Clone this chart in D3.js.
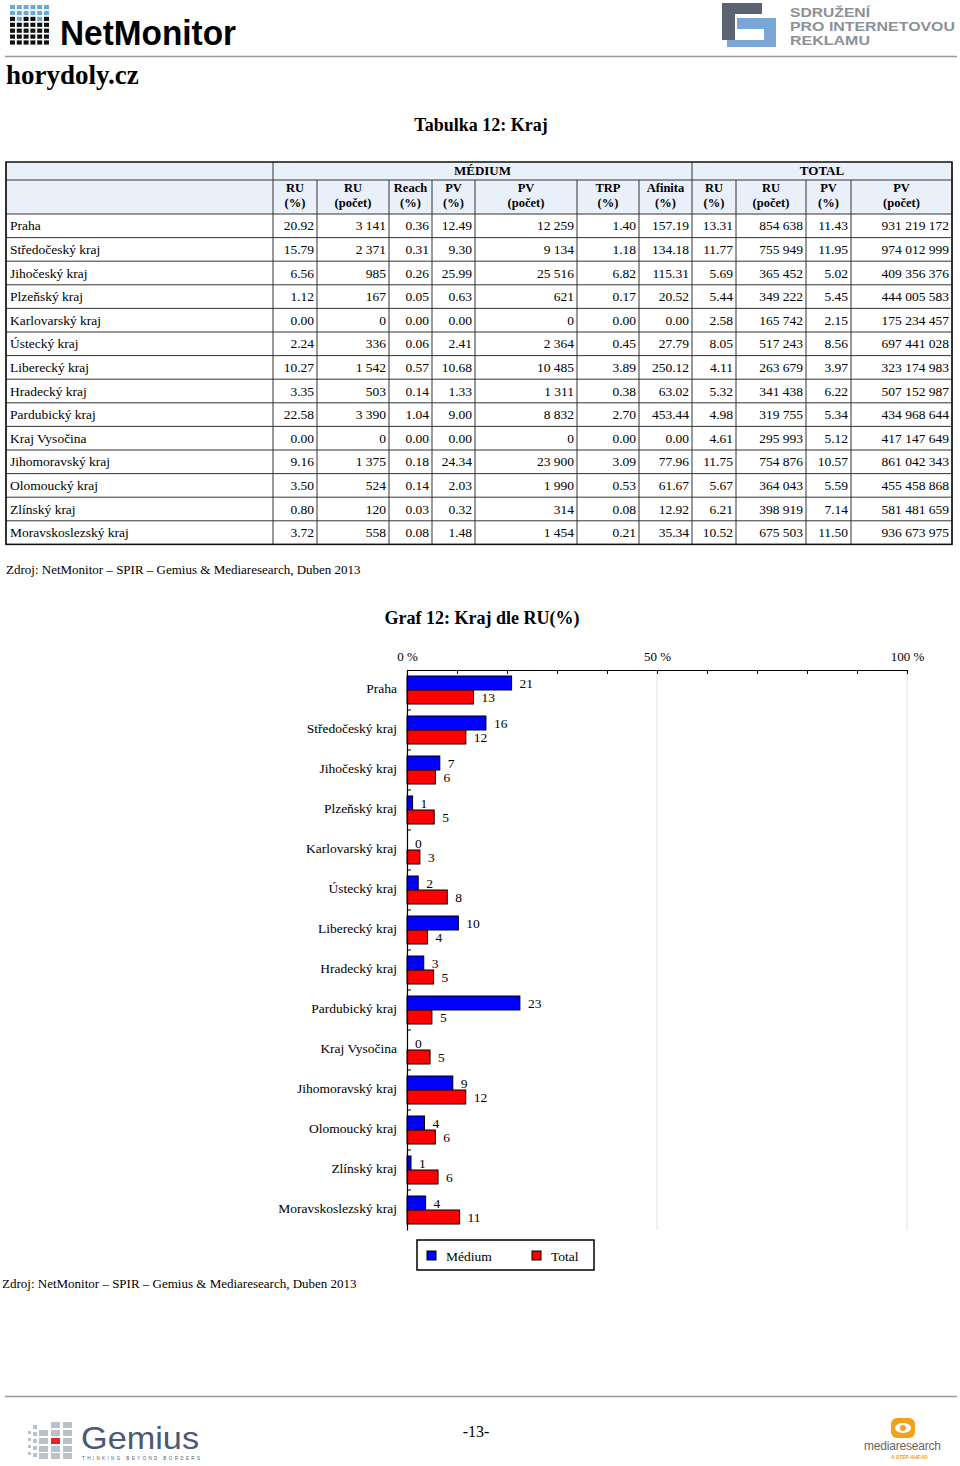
<!DOCTYPE html>
<html><head><meta charset="utf-8">
<script src="https://cdn.jsdelivr.net/npm/d3@7"></script>
<style>
body{margin:0;background:#fff}
svg{display:block}
.serif{font-family:"Liberation Serif","DejaVu Serif",serif}
.sans{font-family:"Liberation Sans","DejaVu Sans",Arial,sans-serif}
</style>
</head><body>
<svg id="c" width="960" height="1466"></svg>
<script>
// ---------- DATA ----------
const regions = ["Praha","Středočeský kraj","Jihočeský kraj","Plzeňský kraj","Karlovarský kraj","Ústecký kraj","Liberecký kraj","Hradecký kraj","Pardubický kraj","Kraj Vysočina","Jihomoravský kraj","Olomoucký kraj","Zlínský kraj","Moravskoslezský kraj"];
const medRuPct   = [20.92,15.79,6.56,1.12,0.00,2.24,10.27,3.35,22.58,0.00,9.16,3.50,0.80,3.72];
const medRuCount = [3141,2371,985,167,0,336,1542,503,3390,0,1375,524,120,558];
const medReach   = [0.36,0.31,0.26,0.05,0.00,0.06,0.57,0.14,1.04,0.00,0.18,0.14,0.03,0.08];
const medPvPct   = [12.49,9.30,25.99,0.63,0.00,2.41,10.68,1.33,9.00,0.00,24.34,2.03,0.32,1.48];
const medPvCount = [12259,9134,25516,621,0,2364,10485,1311,8832,0,23900,1990,314,1454];
const medTrp     = [1.40,1.18,6.82,0.17,0.00,0.45,3.89,0.38,2.70,0.00,3.09,0.53,0.08,0.21];
const medAfinita = [157.19,134.18,115.31,20.52,0.00,27.79,250.12,63.02,453.44,0.00,77.96,61.67,12.92,35.34];
const totRuPct   = [13.31,11.77,5.69,5.44,2.58,8.05,4.11,5.32,4.98,4.61,11.75,5.67,6.21,10.52];
const totRuCount = [854638,755949,365452,349222,165742,517243,263679,341438,319755,295993,754876,364043,398919,675503];
const totPvPct   = [11.43,11.95,5.02,5.45,2.15,8.56,3.97,6.22,5.34,5.12,10.57,5.59,7.14,11.50];
const totPvCount = [931219172,974012999,409356376,444005583,175234457,697441028,323174983,507152987,434968644,417147649,861042343,455458868,581481659,936673975];
const seriesNames = ["Médium","Total"];
const axisTicks = [0,10,20,30,40,50,60,70,80,90,100];
const axisLabelTicks = [0,50,100];
const sourceText = "Zdroj: NetMonitor – SPIR – Gemius & Mediaresearch, Duben 2013";

// ---------- SETUP ----------
const svg = d3.select("#c");
const loc = d3.formatLocale({decimal:".", thousands:" ", grouping:[3], currency:["",""]});
const fPct = loc.format(".2f"), fCnt = loc.format(",d"), fRound = d3.format(".0f");

// ---------- HEADER ----------
const logo = svg.append("g");
const blackH = [5,4,5,5,4,5];
for (let c=0;c<6;c++) for (let r=0;r<7;r++){
  logo.append("rect").attr("x",10+c*6.8).attr("y",5+r*5.9).attr("width",5).attr("height",4.2)
    .attr("fill", r >= 7-blackH[c] ? "#111" : "#6aaad8");
}
logo.append("text").attr("class","sans").attr("x",60).attr("y",45).attr("font-size",35)
  .attr("font-weight","bold").attr("textLength",176).attr("lengthAdjust","spacingAndGlyphs")
  .attr("fill","#000").text("NetMonitor");
// SPIR logo
svg.append("path").attr("d","M722,3 H762 V14 H735 V40 H722 Z").attr("fill","#5b6470");
svg.append("path").attr("d","M737,18 H776 V47 H727 V40 H764 V29 H737 Z").attr("fill","#7aa7d8");
[["SDRUŽENÍ",17,80],["PRO INTERNETOVOU",31,165],["REKLAMU",45,80]].forEach(([t,yy,w])=>{
  svg.append("text").attr("class","sans").attr("x",790).attr("y",yy).attr("font-size",13.5)
    .attr("font-weight","bold").attr("fill","#8c9097")
    .attr("textLength",w).attr("lengthAdjust","spacingAndGlyphs").text(t);
});
svg.append("line").attr("x1",5).attr("x2",957).attr("y1",56.5).attr("y2",56.5).attr("stroke","#999").attr("stroke-width",1.5);
svg.append("text").attr("class","serif").attr("x",6).attr("y",84).attr("font-size",27)
  .attr("font-weight","bold").text("horydoly.cz");

// ---------- TABLE ----------
svg.append("text").attr("class","serif").attr("x",481).attr("y",131).attr("text-anchor","middle")
  .attr("font-size",18).attr("font-weight","bold").text("Tabulka 12: Kraj");

const colB = [6,273,317,389,432,475,577,639,692,736,806,851,952];
const cols = [
  {h:["RU","(%)"], v:medRuPct, f:fPct},
  {h:["RU","(počet)"], v:medRuCount, f:fCnt},
  {h:["Reach","(%)"], v:medReach, f:fPct},
  {h:["PV","(%)"], v:medPvPct, f:fPct},
  {h:["PV","(počet)"], v:medPvCount, f:fCnt},
  {h:["TRP","(%)"], v:medTrp, f:fPct},
  {h:["Afinita","(%)"], v:medAfinita, f:fPct},
  {h:["RU","(%)"], v:totRuPct, f:fPct},
  {h:["RU","(počet)"], v:totRuCount, f:fCnt},
  {h:["PV","(%)"], v:totPvPct, f:fPct},
  {h:["PV","(počet)"], v:totPvCount, f:fCnt}
];
const tTop=162, h1=180, h2=214, rowH=23.6;
const tBot = h2 + rowH*regions.length;
const tbl = svg.append("g").attr("class","serif").attr("font-size",13.5);
tbl.append("rect").attr("x",6).attr("y",tTop).attr("width",946).attr("height",h2-tTop).attr("fill","#eaf0fa");
const hLines = [h1, h2, ...regions.map((_,i)=>h2+rowH*(i+1))];
hLines.forEach(yy=>tbl.append("line").attr("x1",6).attr("x2",952).attr("y1",yy).attr("y2",yy).attr("stroke","#333").attr("stroke-width",1));
colB.forEach((xx,i)=>{
  const full = (i===0||i===1||i===8||i===12);
  tbl.append("line").attr("x1",xx).attr("x2",xx).attr("y1",full?tTop:h1).attr("y2",tBot).attr("stroke","#333").attr("stroke-width",1);
});
tbl.append("rect").attr("x",6).attr("y",tTop).attr("width",946).attr("height",tBot-tTop).attr("fill","none").attr("stroke","#111").attr("stroke-width",1.5);
tbl.append("text").attr("x",(colB[1]+colB[8])/2).attr("y",175).attr("text-anchor","middle").attr("font-weight","bold").attr("font-size",13).text("MÉDIUM");
tbl.append("text").attr("x",(colB[8]+colB[12])/2).attr("y",175).attr("text-anchor","middle").attr("font-weight","bold").attr("font-size",13).text("TOTAL");
cols.forEach((c,i)=>{
  const cx=(colB[i+1]+colB[i+2])/2;
  tbl.append("text").attr("x",cx).attr("y",192).attr("text-anchor","middle").attr("font-weight","bold").attr("font-size",12.5).text(c.h[0]);
  tbl.append("text").attr("x",cx).attr("y",207).attr("text-anchor","middle").attr("font-weight","bold").attr("font-size",12.5).text(c.h[1]);
});
regions.forEach((r,ri)=>{
  const by = h2 + rowH*ri + rowH/2 + 4.5;
  tbl.append("text").attr("x",10).attr("y",by).text(r);
  cols.forEach((c,ci)=>{
    tbl.append("text").attr("x",colB[ci+2]-3).attr("y",by).attr("text-anchor","end").text(c.f(c.v[ri]));
  });
});
svg.append("text").attr("class","serif").attr("x",6).attr("y",574).attr("font-size",13).text(sourceText);

// ---------- CHART ----------
svg.append("text").attr("class","serif").attr("x",482).attr("y",624).attr("text-anchor","middle")
  .attr("font-size",18).attr("font-weight","bold").text("Graf 12: Kraj dle RU(%)");

const x = d3.scaleLinear().domain([0,100]).range([407,907]);
const y = d3.scaleBand().domain(regions).range([670,1230]).paddingInner(0.3).paddingOuter(0.15);
const ys = d3.scaleBand().domain(seriesNames).range([0,y.bandwidth()]);
const color = d3.scaleOrdinal().domain(seriesNames).range(["#0000ff","#ff0000"]);
const vals = {"Médium":medRuPct, "Total":totRuPct};

const ch = svg.append("g").attr("class","serif").attr("font-size",13.5);
ch.selectAll("line.grid").data([50,100]).join("line").attr("class","grid")
  .attr("x1",d=>x(d)).attr("x2",d=>x(d)).attr("y1",670).attr("y2",1230).attr("stroke","#e2e2e2").attr("stroke-width",1);
const ax = ch.append("g").attr("transform","translate(0,670)")
  .call(d3.axisTop(x).tickValues(axisTicks).tickSizeInner(-4).tickSizeOuter(0).tickPadding(9)
    .tickFormat(d=>axisLabelTicks.includes(d)? d+" %":""));
ax.selectAll("text").attr("font-family","Liberation Serif, DejaVu Serif, serif").attr("font-size",13).attr("fill","#000");
ax.select(".domain").attr("stroke","#000").attr("stroke-width",1.2);
regions.forEach((r,ri)=>{
  seriesNames.forEach(s=>{
    const v = vals[s][ri];
    const by = y(r)+ys(s);
    ch.append("rect").attr("x",x(0)).attr("y",by).attr("width",x(v)-x(0)).attr("height",ys.bandwidth())
      .attr("fill",color(s)).attr("stroke","#000").attr("stroke-width",1);
    ch.append("text").attr("x",x(v)+8).attr("y",by+ys.bandwidth()/2+4.5).text(fRound(v));
  });
});
const ay = ch.append("g").attr("transform","translate(407,0)")
  .call(d3.axisLeft(y).tickSize(0).tickPadding(10));
ay.selectAll("text").attr("font-family","Liberation Serif, DejaVu Serif, serif").attr("font-size",13.5).attr("fill","#000").attr("dy","0.25em");
ay.select(".domain").attr("stroke","#000").attr("stroke-width",1.2);
const gap = (y.step()-y.bandwidth())/2;
ch.selectAll("line.bt").data(regions.slice(1)).join("line").attr("class","bt")
  .attr("x1",407).attr("x2",411).attr("y1",d=>y(d)-gap).attr("y2",d=>y(d)-gap).attr("stroke","#000");
const lg = svg.append("g").attr("class","serif").attr("font-size",13.5);
lg.append("rect").attr("x",417).attr("y",1240).attr("width",177).attr("height",30).attr("fill","#fff").attr("stroke","#000").attr("stroke-width",1.5);
[[427,446],[532,551]].forEach(([sx,tx],i)=>{
  lg.append("rect").attr("x",sx).attr("y",1251).attr("width",9).attr("height",9).attr("fill",color(seriesNames[i])).attr("stroke","#000");
  lg.append("text").attr("x",tx).attr("y",1261).text(seriesNames[i]);
});
svg.append("text").attr("class","serif").attr("x",2).attr("y",1288).attr("font-size",13).text(sourceText);

// ---------- FOOTER ----------
svg.append("line").attr("x1",5).attr("x2",957).attr("y1",1396.5).attr("y2",1396.5).attr("stroke","#999").attr("stroke-width",1.5);
const gm = svg.append("g");
[1431,1438,1445,1452].forEach(yy=>gm.append("rect").attr("x",28).attr("y",yy).attr("width",3).attr("height",3).attr("fill","#b9c1c9"));
[1425,1432,1439,1446,1453].forEach(yy=>gm.append("rect").attr("x",33).attr("y",yy).attr("width",4).attr("height",4).attr("fill","#b9c1c9"));
[39,51,63].forEach((xx,ci)=>[1422,1430,1438,1446,1453].forEach((yy,ri)=>{
  if (ci===0 && ri===0) return;
  gm.append("rect").attr("x",xx).attr("y",yy).attr("width",9).attr("height",6)
    .attr("fill",(ci===1&&ri===2)?"#e8232b":"#b9c1c9");
}));
gm.append("text").attr("class","sans").attr("x",81).attr("y",1449).attr("font-size",32)
  .attr("textLength",118).attr("lengthAdjust","spacingAndGlyphs").attr("fill","#4b5878").text("Gemius");
gm.append("text").attr("class","sans").attr("x",82).attr("y",1460).attr("font-size",4.5)
  .attr("textLength",118).attr("fill","#4b5878").text("THINKING BEYOND BORDERS");
svg.append("text").attr("class","serif").attr("x",476).attr("y",1437).attr("text-anchor","middle").attr("font-size",16).text("-13-");
const mr = svg.append("g");
mr.append("rect").attr("x",891).attr("y",1418).attr("width",24).attr("height",20).attr("rx",6).attr("fill","#f3a11c");
mr.append("ellipse").attr("cx",903).attr("cy",1428).attr("rx",8).attr("ry",5).attr("fill","#fff");
mr.append("circle").attr("cx",903).attr("cy",1428).attr("r",3).attr("fill","#f3a11c");
mr.append("text").attr("class","sans").attr("x",864).attr("y",1450).attr("font-size",12)
  .attr("textLength",77).attr("fill","#666").text("mediaresearch");
mr.append("text").attr("class","sans").attr("x",891).attr("y",1459).attr("font-size",5)
  .attr("font-weight","bold").attr("font-style","italic").attr("fill","#f3a11c").text("A STEP AHEAD");
</script>
</body></html>
